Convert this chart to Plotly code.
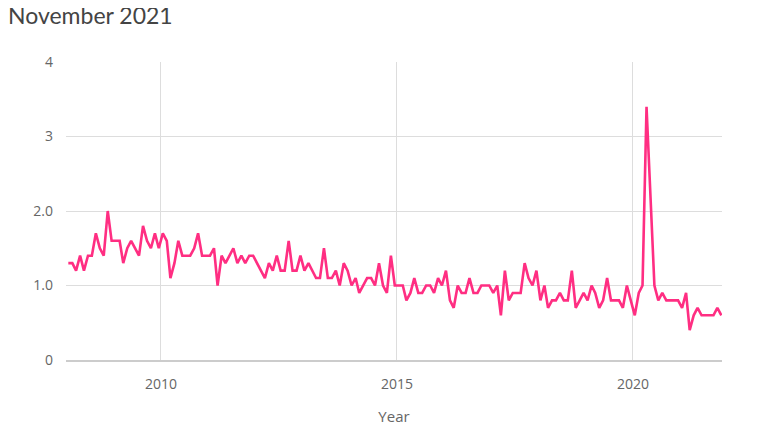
import pandas as pd
import plotly.graph_objects as go

TITLE = "November 2021"
LINE_COLOR = "#ff2e82"

# monthly values, Jan 2008 .. Nov 2021
START_MONTH = "2008-01-01"
VALUES = [
    1.3, 1.3, 1.2, 1.4, 1.2, 1.4, 1.4, 1.7, 1.5, 1.4, 2.0, 1.6,  # 2008
    1.6, 1.6, 1.3, 1.5, 1.6, 1.5, 1.4, 1.8, 1.6, 1.5, 1.7, 1.5,  # 2009
    1.7, 1.6, 1.1, 1.3, 1.6, 1.4, 1.4, 1.4, 1.5, 1.7, 1.4, 1.4,  # 2010
    1.4, 1.5, 1.0, 1.4, 1.3, 1.4, 1.5, 1.3, 1.4, 1.3, 1.4, 1.4,  # 2011
    1.3, 1.2, 1.1, 1.3, 1.2, 1.4, 1.2, 1.2, 1.6, 1.2, 1.2, 1.4,  # 2012
    1.2, 1.3, 1.2, 1.1, 1.1, 1.5, 1.1, 1.1, 1.2, 1.0, 1.3, 1.2,  # 2013
    1.0, 1.1, 0.9, 1.0, 1.1, 1.1, 1.0, 1.3, 1.0, 0.9, 1.4, 1.0,  # 2014
    1.0, 1.0, 0.8, 0.9, 1.1, 0.9, 0.9, 1.0, 1.0, 0.9, 1.1, 1.0,  # 2015
    1.2, 0.8, 0.7, 1.0, 0.9, 0.9, 1.1, 0.9, 0.9, 1.0, 1.0, 1.0,  # 2016
    0.9, 1.0, 0.6, 1.2, 0.8, 0.9, 0.9, 0.9, 1.3, 1.1, 1.0, 1.2,  # 2017
    0.8, 1.0, 0.7, 0.8, 0.8, 0.9, 0.8, 0.8, 1.2, 0.7, 0.8, 0.9,  # 2018
    0.8, 1.0, 0.9, 0.7, 0.8, 1.1, 0.8, 0.8, 0.8, 0.7, 1.0, 0.8,  # 2019
    0.6, 0.9, 1.0, 3.4, 2.2, 1.0, 0.8, 0.9, 0.8, 0.8, 0.8, 0.8,  # 2020
    0.7, 0.9, 0.4, 0.6, 0.7, 0.6, 0.6, 0.6, 0.6, 0.7, 0.6,       # 2021
]
Y_TICKS = [0, 1, 2, 3, 4]
Y_TICK_TEXT = ["0", "1.0", "2.0", "3", "4"]
X_TITLE = "Year"

dates = pd.date_range(START_MONTH, periods=len(VALUES), freq="MS") + pd.Timedelta(days=14)

fig = go.Figure(
    go.Scatter(
        x=dates,
        y=VALUES,
        mode="lines",
        line=dict(color=LINE_COLOR, width=2.6),
        showlegend=False,
    )
)

# page body adds an 8px offset, so the figure is 8px smaller on each side
fig.update_layout(
    width=751,
    height=420,
    margin=dict(l=58, r=37, t=54, b=68, autoexpand=False),
    paper_bgcolor="#ffffff",
    plot_bgcolor="#ffffff",
    font=dict(family="Open Sans", color="#666666", size=14),
    title=dict(
        text=TITLE,
        xref="container",
        x=0,
        xanchor="left",
        yref="container",
        y=1,
        yanchor="top",
        pad=dict(t=0, l=0),
        font=dict(family="Lato", size=23, color="#444444"),
    ),
)
fig.update_xaxes(
    range=["2007-12-28", "2021-11-20"],
    tickvals=["2010-01-01", "2015-01-01", "2020-01-01"],
    ticktext=["2010", "2015", "2020"],
    showgrid=True,
    gridcolor="#dddddd",
    gridwidth=1,
    showline=True,
    linecolor="#cccccc",
    linewidth=2,
    ticks="",
    ticklabelstandoff=10,
    automargin=False,
    title=dict(text=X_TITLE, standoff=20, font=dict(size=15, color="#666666")),
    tickfont=dict(size=14, color="#666666"),
    zeroline=False,
)
fig.update_yaxes(
    range=[0, 4],
    tickvals=Y_TICKS,
    ticktext=Y_TICK_TEXT,
    showgrid=True,
    gridcolor="#dddddd",
    gridwidth=1,
    zeroline=False,
    ticks="",
    automargin=False,
    ticklabelstandoff=12,
    tickfont=dict(size=14, color="#666666"),
)

fig.write_html("out.html")
